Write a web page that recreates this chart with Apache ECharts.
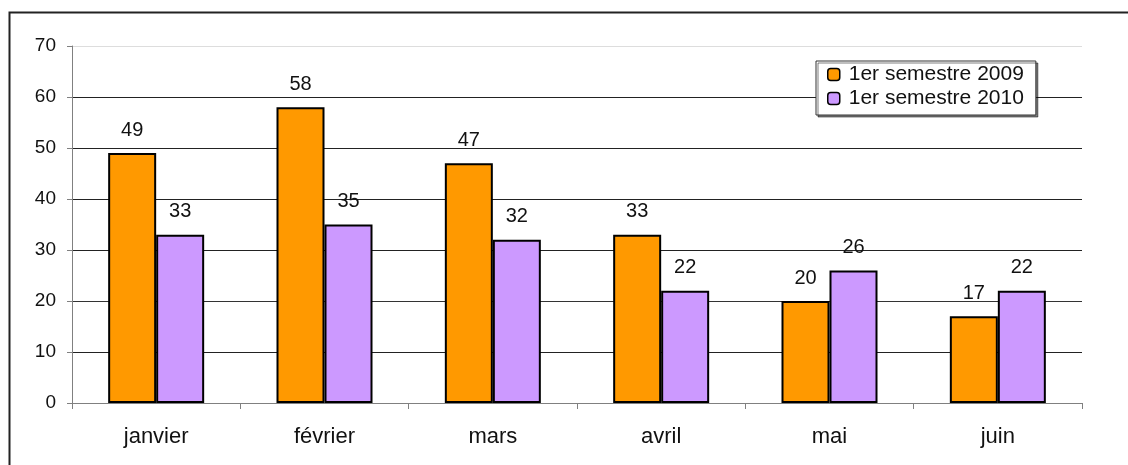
<!DOCTYPE html>
<html>
<head>
<meta charset="utf-8">
<script src="https://cdn.jsdelivr.net/npm/echarts@6/dist/echarts.min.js"></script>
<style>
html,body{margin:0;padding:0;background:#fff;}
#c{width:1128px;height:465px;}
</style>
</head>
<body>
<div id="c"></div>
<script>
const categories = ['janvier', 'février', 'mars', 'avril', 'mai', 'juin'];
const seriesNames = ['1er semestre 2009', '1er semestre 2010'];
const values2009 = [49, 58, 47, 33, 20, 17];
const values2010 = [33, 35, 32, 22, 26, 22];
const yTicks = { min: 0, max: 70, interval: 10 };

const FONT = '"Liberation Sans", Arial, sans-serif';
const chart = echarts.init(document.getElementById('c'), null, { renderer: 'canvas' });

function barSeries(name, data, color) {
  return {
    name: name,
    type: 'bar',
    data: data,
    barWidth: 48,
    barGap: '0%',
    itemStyle: { color: color, borderColor: '#000', borderWidth: 2 },
    label: {
      show: true,
      position: 'top',
      distance: 13,
      color: '#111',
      fontFamily: FONT,
      fontSize: 20
    },
    emphasis: { disabled: true }
  };
}

chart.setOption({
  animation: false,
  backgroundColor: '#fff',
  graphic: [{
    type: 'rect',
    left: 7, top: 10,
    shape: { x: 0, y: 0, width: 1200, height: 500 },
    style: { fill: 'none', stroke: '#222', lineWidth: 2 },
    z: 100
  }],
  grid: { left: 72, right: 46, top: 46, bottom: 62 },
  legend: {
    orient: 'vertical',
    left: 816, top: 61,
    data: seriesNames,
    itemWidth: 12, itemHeight: 12,
    itemGap: 3,
    padding: [3, 12, 6, 11],
    backgroundColor: '#fff',
    borderColor: '#333',
    borderWidth: 1,
    shadowColor: 'rgba(0,0,0,0.5)',
    shadowOffsetX: 2, shadowOffsetY: 2, shadowBlur: 0,
    itemStyle: { borderWidth: 1.5, borderColor: '#000' },
    textStyle: { fontFamily: FONT, fontSize: 21, color: '#111', padding: [0, 0, 0, 4] }
  },
  xAxis: {
    type: 'category',
    data: categories,
    axisLine: { lineStyle: { color: '#808080', width: 1 } },
    axisTick: { show: true, length: 6, lineStyle: { color: '#808080' } },
    axisLabel: { margin: 23, fontFamily: FONT, fontSize: 22, color: '#111' }
  },
  yAxis: {
    type: 'value',
    min: yTicks.min, max: yTicks.max, interval: yTicks.interval,
    axisLine: { show: true, lineStyle: { color: '#808080', width: 1 } },
    axisTick: { show: true, length: 5, lineStyle: { color: '#808080' } },
    axisLabel: { margin: 16, fontFamily: FONT, fontSize: 19, color: '#111' },
    splitLine: { show: true, lineStyle: { color: ['#808080', '#222', '#333', '#222', '#222', '#222', '#222', '#ddd'], width: 1 } }
  },
  series: [
    barSeries(seriesNames[0], values2009, '#FF9900'),
    barSeries(seriesNames[1], values2010, '#CC99FF')
  ]
});
</script>
</body>
</html>
